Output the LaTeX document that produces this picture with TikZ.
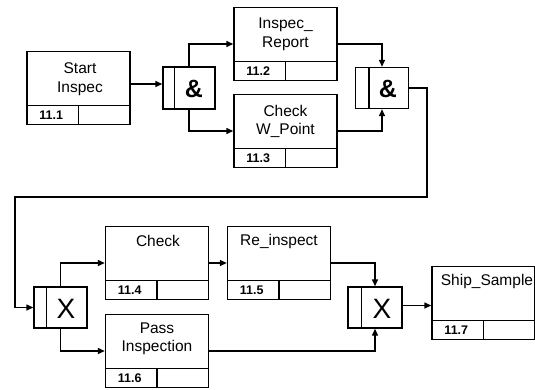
\documentclass[tikz,border=0pt]{standalone}
\usepackage{fontspec}
\setmainfont{Liberation Sans}
\usetikzlibrary{arrows.meta}
\newcommand\procparts[2]{%
  \draw[ln] ([yshift=20pt]#1.south west) -- ([yshift=20pt]#1.south east);
  \draw[ln] ([xshift=52pt,yshift=20pt]#1.south west) -- ([xshift=52pt]#1.south west);
  \node[num] (#1n) at ([xshift=25pt,yshift=10pt]#1.south west) {#2};
}
\begin{document}
\begin{tikzpicture}[x=1pt,y=-1pt,
  ln/.style={line width=1.4pt},
  proc/.style={draw,line width=1.4pt,minimum width=103pt,minimum height=73pt,inner sep=0pt},
  gate/.style={draw,line width=1.4pt,inner sep=0pt},
  ttl/.style={font=\fontsize{15.5}{18.5}\selectfont,align=center,inner sep=0pt},
  num/.style={font=\bfseries\fontsize{12.5}{13}\selectfont,inner sep=0pt},
  andsym/.style={inner sep=0pt,font=\bfseries\fontsize{25}{25}\selectfont},
  xorsym/.style={inner sep=0pt,font=\fontsize{28}{28}\selectfont},
  arr/.style={line width=1.4pt,-{Triangle[length=7pt,width=6pt]}},
]
\useasboundingbox (0,0) rectangle (535,389);

% process boxes
\node[proc] (s1) at (78.5,88) {};
\node[proc] (r2) at (285.5,44) {};
\node[proc] (c3) at (285.5,131) {};
\node[proc] (c4) at (157,263) {};
\node[proc] (r5) at (279,263) {};
\node[proc] (p6) at (157,351) {};
\node[proc] (s7) at (483.5,303) {};
\procparts{s1}{11.1}
\procparts{r2}{11.2}
\procparts{c3}{11.3}
\procparts{c4}{11.4}
\procparts{r5}{11.5}
\procparts{p6}{11.6}
\procparts{s7}{11.7}

\node[ttl] (s1t) at (80,79) {Start\\Inspec};
\node[ttl] (r2t) at (285.5,34.5) {Inspec\_\\Report};
\node[ttl] (c3t) at (285.5,121.5) {Check\\W\_Point};
\node[ttl] (c4t) at (158,241) {Check};
\node[ttl] (r5t) at (279,241) {Re\_inspect};
\node[ttl] (p6t) at (157,339) {Pass\\Inspection};
\node[ttl] (s7t) at (487,281) {Ship\_Sample};

% gates
\node[gate,minimum width=52pt,minimum height=42pt] (g1) at (189,88) {};
\node[gate,minimum width=53pt,minimum height=41pt] (g2) at (382,88) {};
\node[gate,minimum width=53pt,minimum height=41pt] (x1) at (60.5,307.5) {};
\node[gate,minimum width=54pt,minimum height=41pt] (x2) at (375,307.5) {};
\draw[ln] ([xshift=12pt]g1.north west) -- ([xshift=12pt]g1.south west);
\draw[ln] ([xshift=14pt]g2.north west) -- ([xshift=14pt]g2.south west);
\draw[ln] ([xshift=13pt]x1.north west) -- ([xshift=13pt]x1.south west);
\draw[ln] ([xshift=14pt]x2.north west) -- ([xshift=14pt]x2.south west);
\node[andsym] (g1s) at (194,89) {\&};
\node[andsym] (g2s) at (388,89) {\&};
\node[xorsym] (x1s) at (66,309) {X};
\node[xorsym] (x2s) at (382,309) {X};

% connectors
\coordinate (k1) at (427,197);
\coordinate (k2) at (15,197);
\draw[arr] ([yshift=4pt]s1.east) -- ([yshift=4pt]s1.east -| g1.west);
\draw[arr] (g1.north) |- (r2.west);
\draw[arr] (g1.south) |- (c3.west);
\draw[arr] (r2.east) -| (g2.north);
\draw[arr] (c3.east) -| (g2.south);
\draw[arr] (g2.east) -| (k1) -- (k2) |- (x1.west);
\draw[arr] (x1.north) |- (c4.west);
\draw[arr] (x1.south) |- (p6.west);
\draw[arr] (c4.east) -- (r5.west);
\draw[arr] (r5.east) -| (x2.north);
\draw[arr] (p6.east) -| (x2.south);
\draw[arr] ([yshift=2pt]x2.east) -- ([yshift=2pt]x2.east -| s7.west);
\end{tikzpicture}
\end{document}
